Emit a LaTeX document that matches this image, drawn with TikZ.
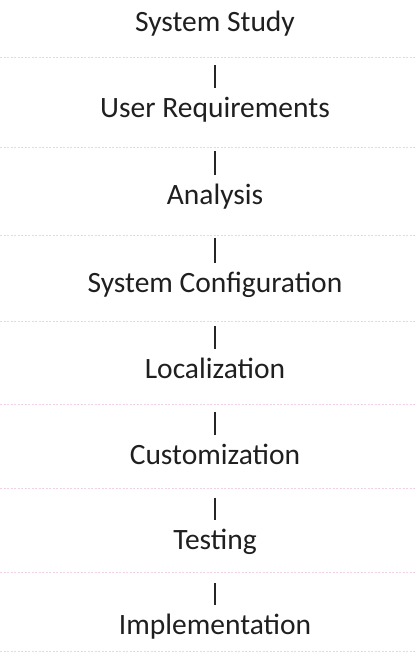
\documentclass[tikz,border=0pt]{standalone}
\usepackage{fontspec}
\setmainfont{Carlito}
\begin{document}
\begin{tikzpicture}[x=1pt,y=-1pt,
  stage/.style={anchor=base,inner sep=0pt,font=\fontsize{29.5}{34}\selectfont,text=black!88},
  link/.style={draw=black!85,line width=1.7pt,shorten <=34pt,shorten >=29pt},
  rule/.style={draw={rgb,1:red,0.94;green,0.82;blue,0.90},line width=0.8pt,dash pattern=on 2pt off 1.5pt}]
\useasboundingbox (0,0) rectangle (416,654);
\node[stage] (s1) at (215,31) {System Study};
\node[stage] (s2) at (215,117) {User Requirements};
\node[stage] (s3) at (215,204) {Analysis};
\node[stage] (s4) at (215,292) {System Configuration};
\node[stage] (s5) at (215,378) {Localization};
\node[stage] (s6) at (215,464) {Customization};
\node[stage] (s7) at (215,549) {Testing};
\node[stage] (s8) at (215,634) {Implementation};
\foreach \y in {57,147,235,321,404,488,572,651}
  \draw[rule] (0,\y) -- (416,\y);
\foreach \a/\b in {s1/s2,s2/s3,s3/s4,s4/s5,s5/s6,s6/s7,s7/s8}
  \draw[link] (\a.base) -- (\b.base);
\end{tikzpicture}
\end{document}
